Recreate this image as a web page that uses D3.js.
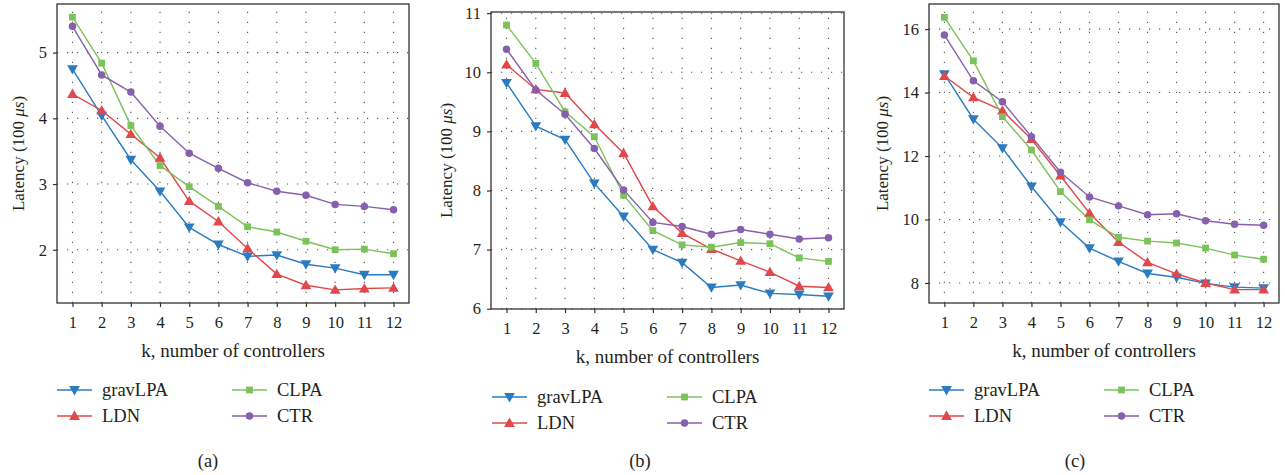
<!DOCTYPE html>
<html>
<head>
<meta charset="utf-8">
<script src="https://cdn.jsdelivr.net/npm/d3@7"></script>
<style>
  body { margin: 0; background: #fff; }
  svg text { font-family: "Liberation Serif", "DejaVu Serif", serif; fill: #231f20; }
</style>
</head>
<body>
<svg id="chart" width="1285" height="475"></svg>
<script>
// k, number of controllers
var kValues = [1, 2, 3, 4, 5, 6, 7, 8, 9, 10, 11, 12];

var seriesNames = ["gravLPA", "LDN", "CLPA", "CTR"];
var seriesColors = ["#2b7bc0", "#e0484b", "#7cc25a", "#8660ad"];

// panel (a)
var gravA = [4.75, 4.04, 3.37, 2.89, 2.34, 2.08, 1.90, 1.92, 1.78, 1.72, 1.62, 1.62];
var ldnA  = [4.37, 4.12, 3.76, 3.40, 2.74, 2.43, 2.02, 1.63, 1.46, 1.39, 1.41, 1.42];
var clpaA = [5.54, 4.84, 3.89, 3.28, 2.96, 2.66, 2.35, 2.27, 2.13, 2.00, 2.01, 1.94];
var ctrA  = [5.40, 4.66, 4.40, 3.88, 3.47, 3.24, 3.02, 2.89, 2.83, 2.69, 2.66, 2.61];

// panel (b)
var gravB = [9.82, 9.09, 8.86, 8.12, 7.56, 7.00, 6.78, 6.36, 6.40, 6.26, 6.24, 6.21];
var ldnB  = [10.13, 9.71, 9.65, 9.12, 8.63, 7.73, 7.28, 7.01, 6.81, 6.62, 6.38, 6.36];
var clpaB = [10.80, 10.15, 9.33, 8.91, 7.92, 7.32, 7.08, 7.04, 7.12, 7.10, 6.86, 6.80];
var ctrB  = [10.39, 9.70, 9.29, 8.71, 8.01, 7.46, 7.39, 7.26, 7.34, 7.26, 7.18, 7.20];

// panel (c)
var gravC = [14.58, 13.16, 12.25, 11.04, 9.92, 9.10, 8.68, 8.30, 8.18, 7.99, 7.87, 7.84];
var ldnC  = [14.52, 13.85, 13.43, 12.53, 11.38, 10.20, 9.29, 8.65, 8.29, 8.00, 7.79, 7.79];
var clpaC = [16.37, 15.00, 13.24, 12.19, 10.88, 9.99, 9.44, 9.32, 9.26, 9.10, 8.88, 8.75];
var ctrC  = [15.81, 14.37, 13.71, 12.61, 11.49, 10.71, 10.43, 10.15, 10.18, 9.96, 9.85, 9.82];

var ticksA = [2, 3, 4, 5];
var ticksB = [6, 7, 8, 9, 10, 11];
var ticksC = [8, 10, 12, 14, 16];

var panels = [
  { caption: "(a)", series: [gravA, ldnA, clpaA, ctrA], yDomain: [1.19, 5.74], yTicks: ticksA,
    box: { x0: 57, x1: 409, y0: 4, y1: 303 }, yLabelX: 18, legendY: 390, legendX: [57, 232], capX: 208 },
  { caption: "(b)", series: [gravB, ldnB, clpaB, ctrB], yDomain: [5.995, 11.02], yTicks: ticksB,
    box: { x0: 491, x1: 844, y0: 12, y1: 309 }, yLabelX: 446, legendY: 397, legendX: [492, 667], capX: 640 },
  { caption: "(c)", series: [gravC, ldnC, clpaC, ctrC], yDomain: [7.37, 16.79], yTicks: ticksC,
    box: { x0: 929, x1: 1279, y0: 4, y1: 303 }, yLabelX: 882, legendY: 390, legendX: [929, 1104], capX: 1075 }
];

var svg = d3.select("#chart");

var markerSymbols = [
  d3.symbol().type(d3.symbolTriangle).size(50),
  d3.symbol().type(d3.symbolTriangle).size(50),
  d3.symbol().type(d3.symbolSquare).size(46),
  d3.symbol().type(d3.symbolCircle).size(44)
];

function drawMarker(g, i, x, y) {
  var rot = i === 0 ? 180 : 0;
  // shift triangles so they look centred on the point
  var dy = i === 0 ? -0.8 : (i === 1 ? 0.8 : 0);
  g.append("path")
    .attr("d", markerSymbols[i]())
    .attr("transform", "translate(" + x + "," + (y + dy) + ") rotate(" + rot + ")")
    .style("fill", seriesColors[i]);
}

panels.forEach(function(p) {
  var b = p.box;
  var x = d3.scaleLinear().domain([0.47, 12.53]).range([b.x0, b.x1]);
  var y = d3.scaleLinear().domain(p.yDomain).range([b.y1, b.y0]);
  var g = svg.append("g");

  // dotted grid
  g.selectAll(".vgrid")
    .data(kValues)
    .enter()
    .append("line")
    .attr("x1", function(d) { return x(d); })
    .attr("x2", function(d) { return x(d); })
    .attr("y1", b.y1)
    .attr("y2", b.y0)
    .style("stroke", "#555")
    .style("stroke-width", 1.1)
    .style("stroke-dasharray", "1.2,8.8");

  g.selectAll(".hgrid")
    .data(p.yTicks)
    .enter()
    .append("line")
    .attr("x1", b.x0)
    .attr("x2", b.x1)
    .attr("y1", function(d) { return y(d); })
    .attr("y2", function(d) { return y(d); })
    .style("stroke", "#555")
    .style("stroke-width", 1.1)
    .style("stroke-dasharray", "1.2,8.8");

  // frame
  g.append("rect")
    .attr("x", b.x0)
    .attr("y", b.y0)
    .attr("width", b.x1 - b.x0)
    .attr("height", b.y1 - b.y0)
    .style("fill", "none")
    .style("stroke", "#333")
    .style("stroke-width", 1.3);

  // axes
  var xAxis = d3.axisBottom(x).tickValues(kValues).tickSize(4).tickPadding(9).tickFormat(d3.format("d"));
  var yAxis = d3.axisLeft(y).tickValues(p.yTicks).tickSize(4).tickPadding(6).tickFormat(d3.format("d"));

  var gx = g.append("g").attr("transform", "translate(0," + b.y1 + ")").call(xAxis);
  var gy = g.append("g").attr("transform", "translate(" + b.x0 + ",0)").call(yAxis);
  [gx, gy].forEach(function(a) {
    a.select(".domain").remove();
    a.selectAll(".tick line").style("stroke", "#333").style("stroke-width", 1.2);
    a.selectAll(".tick text").style("font-size", "16.5px").style("fill", "#231f20")
      .style("font-family", "'Liberation Serif', serif");
  });

  // axis titles
  g.append("text")
    .attr("x", (b.x0 + b.x1) / 2)
    .attr("y", b.y1 + 54)
    .style("text-anchor", "middle")
    .style("font-size", "19px")
    .text("k, number of controllers");

  var yl = g.append("text")
    .attr("transform", "translate(" + p.yLabelX + "," + ((b.y0 + b.y1) / 2) + ") rotate(-90)")
    .attr("dy", "0.35em")
    .style("text-anchor", "middle")
    .style("font-size", "17px");
  yl.append("tspan").text("Latency (100 ");
  yl.append("tspan").style("font-style", "italic").text("\u03bcs");
  yl.append("tspan").text(")");

  // lines and markers
  var line = d3.line()
    .x(function(d, i) { return x(kValues[i]); })
    .y(function(d) { return y(d); });

  p.series.forEach(function(vals, si) {
    g.append("path")
      .datum(vals)
      .attr("d", line)
      .style("fill", "none")
      .style("stroke", seriesColors[si])
      .style("stroke-width", 1.4);
  });
  p.series.forEach(function(vals, si) {
    vals.forEach(function(v, i) {
      drawMarker(g, si, x(kValues[i]), y(v));
    });
  });

  // legend
  var legend = g.append("g");
  seriesNames.forEach(function(name, si) {
    var lx = p.legendX[si < 2 ? 0 : 1];
    var ly = p.legendY + (si % 2) * 26;
    legend.append("line")
      .attr("x1", lx)
      .attr("x2", lx + 35)
      .attr("y1", ly)
      .attr("y2", ly)
      .style("stroke", seriesColors[si])
      .style("stroke-opacity", 0.75)
      .style("stroke-width", 2);
    drawMarker(legend, si, lx + 17.5, ly);
    legend.append("text")
      .attr("x", lx + 45)
      .attr("y", ly)
      .attr("dy", "0.35em")
      .style("font-size", "18.5px")
      .text(name);
  });

  // caption
  g.append("text")
    .attr("x", p.capX)
    .attr("y", 467)
    .style("text-anchor", "middle")
    .style("font-size", "18.5px")
    .text(p.caption);
});
</script>
</body>
</html>
